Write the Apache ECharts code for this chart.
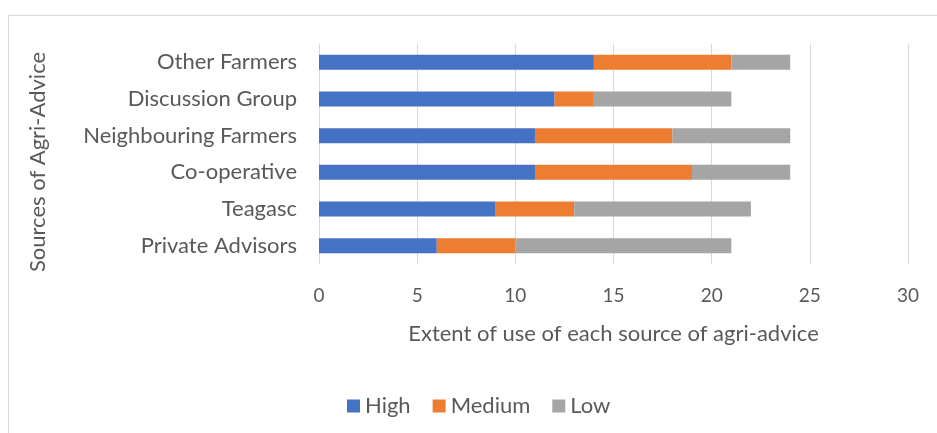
<!DOCTYPE html>
<html><head><meta charset="utf-8">
<script src="https://cdn.jsdelivr.net/npm/echarts@6/dist/echarts.min.js"></script>
<style>html,body{margin:0;padding:0;background:#fff}#c{width:937px;height:433px}</style>
</head><body><div id="c"></div>
<script>
const categories = ['Private Advisors','Teagasc','Co-operative','Neighbouring Farmers','Discussion Group','Other Farmers'];
const high = [6, 9, 11, 11, 12, 14];
const medium = [4, 4, 8, 7, 2, 7];
const low = [11, 9, 5, 6, 7, 3];
const xTicks = [0, 5, 10, 15, 20, 25, 30];

const font = 'Lato';
const txt = '#595959';
const fs = 22;
const chart = echarts.init(document.getElementById('c'));
chart.setOption({
  animation: false,
  graphic: [{type:'rect', shape:{x:8.5,y:15.5,width:1000,height:1000}, style:{fill:'none',stroke:'#d9d9d9',lineWidth:1}, silent:true}],
  grid: {left: 319, right: 29, top: 44, bottom: 169, containLabel: false},
  legend: {
    top: 390, left: 342, itemWidth: 13, itemHeight: 13, itemGap: 22,
    icon: 'rect',
    textStyle: {fontFamily: font, fontSize: fs, color: txt},
    data: ['High','Medium','Low']
  },
  xAxis: {
    type: 'value', min: 0, max: 30, interval: 5,
    name: 'Extent of use of each source of agri-advice', nameLocation: 'middle', nameGap: 59,
    nameTextStyle: {fontFamily: font, fontSize: fs, color: txt},
    axisLine: {show: false}, axisTick: {show: false},
    splitLine: {lineStyle: {color: '#d9d9d9', width: 1}},
    axisLabel: {fontFamily: font, fontSize: 19, color: txt, margin: 22,
      formatter: v => xTicks.includes(v) ? String(v) : ''}
  },
  yAxis: {
    type: 'category', data: categories,
    name: 'Sources of Agri-Advice', nameLocation: 'middle', nameGap: 270, nameRotate: 90,
    nameTextStyle: {fontFamily: font, fontSize: fs, color: txt, padding: [0, 16, 0, 0]},
    axisLine: {lineStyle: {color: '#d9d9d9', width: 1}}, axisTick: {show: false},
    axisLabel: {fontFamily: font, fontSize: fs, color: txt, margin: 22}
  },
  series: [
    {name:'High', type:'bar', stack:'s', data: high, barWidth: 15, itemStyle:{color:'#4472c4'}},
    {name:'Medium', type:'bar', stack:'s', data: medium, barWidth: 15, itemStyle:{color:'#ed7d31'}},
    {name:'Low', type:'bar', stack:'s', data: low, barWidth: 15, itemStyle:{color:'#a5a5a5'}}
  ]
});
</script></body></html>
